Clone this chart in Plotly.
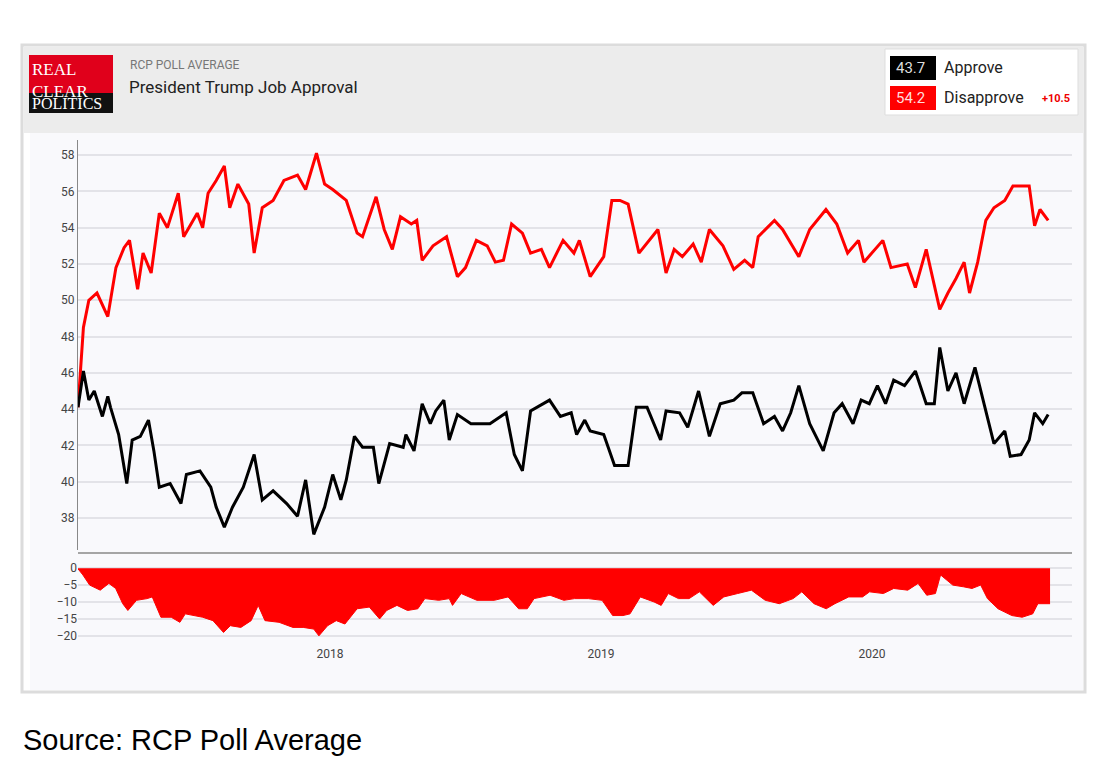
import plotly.graph_objects as go
from plotly.subplots import make_subplots

W, H = 1108, 773

# approve (black) - decimal year / value
approve_t = [2017.07, 2017.09, 2017.11, 2017.13, 2017.16, 2017.18, 2017.19, 2017.22, 2017.25, 2017.27,
             2017.30, 2017.33, 2017.35, 2017.37, 2017.41, 2017.45, 2017.47, 2017.52, 2017.56, 2017.58,
             2017.61, 2017.64, 2017.68, 2017.72, 2017.75, 2017.79, 2017.84, 2017.88, 2017.91, 2017.94,
             2017.98, 2018.01, 2018.04, 2018.06, 2018.09, 2018.12, 2018.16, 2018.18, 2018.22, 2018.27,
             2018.28, 2018.31, 2018.34, 2018.37, 2018.39, 2018.42, 2018.44, 2018.47, 2018.52, 2018.59,
             2018.65, 2018.68, 2018.71, 2018.74, 2018.81, 2018.85, 2018.89, 2018.91, 2018.94, 2018.96,
             2019.01, 2019.05, 2019.10, 2019.13, 2019.17, 2019.22, 2019.24, 2019.29, 2019.32, 2019.36,
             2019.40, 2019.44, 2019.49, 2019.52, 2019.56, 2019.60, 2019.64, 2019.67, 2019.70, 2019.73,
             2019.77, 2019.82, 2019.86, 2019.89, 2019.93, 2019.96, 2019.99, 2020.02, 2020.05, 2020.08,
             2020.12, 2020.16, 2020.20, 2020.23, 2020.25, 2020.28, 2020.31, 2020.34, 2020.38, 2020.42,
             2020.45, 2020.49, 2020.51, 2020.55, 2020.58, 2020.60, 2020.63, 2020.65]
approve_v = [44.1, 46.1, 44.5, 45.0, 43.6, 44.7, 44.1, 42.6, 39.9, 42.3,
             42.5, 43.4, 41.7, 39.7, 39.9, 38.8, 40.4, 40.6, 39.7, 38.6,
             37.5, 38.6, 39.7, 41.5, 39.0, 39.5, 38.8, 38.1, 40.1, 37.1,
             38.6, 40.4, 39.0, 40.1, 42.5, 41.9, 41.9, 39.9, 42.1, 41.9,
             42.6, 41.7, 44.3, 43.2, 43.9, 44.5, 42.3, 43.7, 43.2, 43.2,
             43.8, 41.5, 40.6, 43.9, 44.5, 43.6, 43.8, 42.6, 43.4, 42.8,
             42.6, 40.9, 40.9, 44.1, 44.1, 42.3, 43.9, 43.8, 43.0, 45.0,
             42.5, 44.3, 44.5, 44.9, 44.9, 43.2, 43.6, 42.8, 43.8, 45.3,
             43.2, 41.7, 43.8, 44.3, 43.2, 44.5, 44.3, 45.3, 44.3, 45.6,
             45.3, 46.1, 44.3, 44.3, 47.4, 45.0, 46.0, 44.3, 46.3, 43.8,
             42.1, 42.8, 41.4, 41.5, 42.3, 43.8, 43.2, 43.7]

# disapprove (red)
disapprove_t = [2017.07, 2017.09, 2017.11, 2017.14, 2017.18, 2017.21, 2017.24, 2017.26, 2017.29, 2017.31,
                2017.34, 2017.37, 2017.40, 2017.44, 2017.46, 2017.51, 2017.53, 2017.55, 2017.58, 2017.61,
                2017.63, 2017.66, 2017.70, 2017.72, 2017.75, 2017.79, 2017.83, 2017.88, 2017.91, 2017.95,
                2017.98, 2018.01, 2018.06, 2018.10, 2018.12, 2018.17, 2018.20, 2018.23, 2018.26, 2018.30,
                2018.32, 2018.34, 2018.38, 2018.43, 2018.47, 2018.50, 2018.54, 2018.58, 2018.61, 2018.64,
                2018.67, 2018.71, 2018.74, 2018.78, 2018.81, 2018.86, 2018.90, 2018.92, 2018.96,
                2019.01, 2019.04, 2019.07, 2019.10, 2019.14, 2019.21, 2019.24, 2019.27, 2019.30, 2019.34,
                2019.37, 2019.40, 2019.45, 2019.49, 2019.53, 2019.56, 2019.58, 2019.64, 2019.67, 2019.73,
                2019.77, 2019.83, 2019.87, 2019.91, 2019.95, 2019.97, 2020.04, 2020.07, 2020.13, 2020.16,
                2020.20, 2020.25, 2020.28, 2020.31, 2020.34, 2020.36, 2020.39, 2020.42, 2020.45, 2020.49,
                2020.52, 2020.55, 2020.58, 2020.60, 2020.62, 2020.65]
disapprove_v = [44.1, 48.5, 50.0, 50.4, 49.1, 51.8, 52.9, 53.3, 50.6, 52.6,
                51.5, 54.8, 54.0, 55.9, 53.5, 54.8, 54.0, 55.9, 56.6, 57.4,
                55.1, 56.4, 55.3, 52.6, 55.1, 55.5, 56.6, 56.9, 56.1, 58.1,
                56.4, 56.1, 55.5, 53.7, 53.5, 55.7, 53.9, 52.8, 54.6, 54.2,
                54.4, 52.2, 53.0, 53.5, 51.3, 51.8, 53.3, 53.0, 52.1, 52.2,
                54.2, 53.7, 52.6, 52.8, 51.8, 53.3, 52.6, 53.3, 51.3,
                52.4, 55.5, 55.5, 55.3, 52.6, 53.9, 51.5, 52.8, 52.4, 53.1,
                52.1, 53.9, 53.0, 51.7, 52.2, 51.8, 53.5, 54.4, 53.9, 52.4,
                53.9, 55.0, 54.2, 52.6, 53.3, 52.1, 53.3, 51.8, 52.0, 50.7,
                52.8, 49.5, 50.4, 51.2, 52.1, 50.4, 52.1, 54.4, 55.1, 55.5,
                56.3, 56.3, 56.3, 54.1, 55.0, 54.4]

# spread panel (approve - disapprove)
spread_t = [2017.068, 2017.088, 2017.113, 2017.152, 2017.184, 2017.209, 2017.235, 2017.254, 2017.286, 2017.325,
            2017.344, 2017.376, 2017.414, 2017.446, 2017.466, 2017.530, 2017.568, 2017.607, 2017.632, 2017.671,
            2017.709, 2017.735, 2017.760, 2017.812, 2017.863, 2017.901, 2017.940, 2017.959, 2017.991, 2018.023,
            2018.055, 2018.100, 2018.145, 2018.183, 2018.209, 2018.247, 2018.286, 2018.324, 2018.350, 2018.401,
            2018.440, 2018.452, 2018.484, 2018.542, 2018.606, 2018.657, 2018.696, 2018.728, 2018.753, 2018.812,
            2018.863, 2018.902, 2018.953, 2019.004, 2019.043, 2019.081, 2019.107, 2019.145, 2019.196, 2019.222,
            2019.248, 2019.286, 2019.325, 2019.363, 2019.414, 2019.453, 2019.504, 2019.555, 2019.606, 2019.658,
            2019.709, 2019.741, 2019.786, 2019.831, 2019.863, 2019.914, 2019.965, 2019.991, 2020.042, 2020.080,
            2020.132, 2020.170, 2020.202, 2020.234, 2020.253, 2020.298, 2020.337, 2020.369, 2020.401, 2020.426,
            2020.465, 2020.516, 2020.554, 2020.593, 2020.612, 2020.657]
spread_v = [0, -2, -5, -6.5, -4.5, -6, -10.5, -12.5, -9.5, -9,
            -8.5, -14.5, -14.5, -16, -13.5, -14.5, -15.5, -19, -17, -17.5,
            -15.5, -11, -15.5, -16, -17.5, -17.5, -18, -20, -17, -15.5,
            -16.5, -12, -11.5, -15, -12.5, -11, -12.5, -12, -9, -9.5,
            -9, -11, -7.5, -9.5, -9.5, -8.5, -12, -12, -9, -8,
            -9.5, -9, -9, -9.5, -14, -14, -13.5, -8.5, -10, -11,
            -7.5, -9, -9, -7, -11, -8.5, -7.5, -6.5, -9.5, -10.5,
            -9, -7, -10.5, -12, -10.5, -8.5, -8.5, -7, -7.5, -6,
            -6.5, -4.5, -8, -7.5, -2, -5, -5.5, -6, -5, -9,
            -12, -14, -14.5, -13.5, -10.5, -10.5]

year_ticks = [2018, 2019, 2020]

# the page is drawn with an 8px offset, so pull everything back
OFF = 8


def px(x):
    return (x - OFF) / W


def py(y):
    return 1 - (y - OFF) / H


fig = make_subplots(rows=2, cols=1, shared_xaxes=True, vertical_spacing=0.01)

fig.add_trace(go.Scatter(x=disapprove_t, y=disapprove_v, mode="lines",
                         line=dict(color="#ff0000", width=3), name="Disapprove"), row=1, col=1)
fig.add_trace(go.Scatter(x=approve_t, y=approve_v, mode="lines",
                         line=dict(color="#000000", width=3), name="Approve"), row=1, col=1)
fig.add_trace(go.Scatter(x=spread_t, y=spread_v, mode="lines", fill="tozeroy",
                         fillcolor="#ff0000", line=dict(color="#ff0000", width=1),
                         name="Spread"), row=2, col=1)

tickfont = dict(family="Roboto, Arial", size=12, color="#444")
fig.update_xaxes(range=[2017.07, 2020.738], showgrid=False, zeroline=False)
fig.update_xaxes(showticklabels=False, row=1, col=1, domain=[px(78), px(1072)])
fig.update_xaxes(tickvals=year_ticks, ticktext=[str(t) for t in year_ticks], tickfont=tickfont,
                 ticks="", row=2, col=1, domain=[px(78), px(1072)])
fig.update_yaxes(domain=[py(550), py(140)], range=[36.24, 58.83], tickvals=list(range(38, 59, 2)),
                 gridcolor="#e3e3e8", gridwidth=2, tickfont=tickfont, zeroline=False,
                 showline=True, linecolor="#888", mirror=False, row=1, col=1)
fig.update_yaxes(domain=[py(645), py(558)], range=[-22.7, 3.0], tickvals=[0, -5, -10, -15, -20],
                 gridcolor="#e3e3e8", gridwidth=2, tickfont=tickfont, zeroline=False, row=2, col=1)

shapes = [
    # panel box
    dict(type="rect", xref="paper", yref="paper", x0=px(22), x1=px(1085), y0=py(692), y1=py(45),
         line=dict(color="#dcdcdc", width=3), fillcolor="rgba(0,0,0,0)", layer="below"),
    dict(type="rect", xref="paper", yref="paper", x0=px(24), x1=px(1083), y0=py(133), y1=py(47),
         line=dict(width=0), fillcolor="#ececec", layer="below"),
    dict(type="rect", xref="paper", yref="paper", x0=px(30), x1=px(1083), y0=py(690), y1=py(133),
         line=dict(width=0), fillcolor="#f9f9fc", layer="below"),
    # separator between panels
    dict(type="line", xref="paper", yref="paper", x0=px(78), x1=px(1072), y0=py(553), y1=py(553),
         line=dict(color="#888", width=1.5)),
    # logo
    dict(type="rect", xref="paper", yref="paper", x0=px(29), x1=px(113), y0=py(93), y1=py(55),
         line=dict(width=0), fillcolor="#e0001b"),
    dict(type="rect", xref="paper", yref="paper", x0=px(29), x1=px(113), y0=py(113), y1=py(93),
         line=dict(width=0), fillcolor="#111"),
    # legend box
    dict(type="rect", xref="paper", yref="paper", x0=px(885), x1=px(1078), y0=py(115), y1=py(49),
         line=dict(color="#ddd", width=1), fillcolor="#ffffff"),
    dict(type="rect", xref="paper", yref="paper", x0=px(890), x1=px(936), y0=py(80), y1=py(56),
         line=dict(width=0), fillcolor="#000000"),
    dict(type="rect", xref="paper", yref="paper", x0=px(890), x1=px(936), y0=py(110), y1=py(86),
         line=dict(width=0), fillcolor="#ff0000"),
]

anns = [
    dict(x=px(30), y=py(58), text="REAL<br>CLEAR", font=dict(family="Liberation Serif", size=17, color="white"),
         align="left"),
    dict(x=px(30), y=py(93), text="POLITICS", font=dict(family="Liberation Serif", size=16, color="white")),
    dict(x=px(128), y=py(56), text="RCP POLL AVERAGE", font=dict(family="Roboto", size=12, color="#777")),
    dict(x=px(127), y=py(75), text="President Trump Job Approval", font=dict(family="Roboto", size=17, color="#222")),
    dict(x=px(894), y=py(57), text="43.7", font=dict(family="Roboto", size=15, color="#ddd")),
    dict(x=px(894), y=py(87), text="54.2", font=dict(family="Roboto", size=15, color="#fdd")),
    dict(x=px(942), y=py(56), text="Approve", font=dict(family="Roboto", size=16, color="#222")),
    dict(x=px(942), y=py(86), text="Disapprove", font=dict(family="Roboto", size=16, color="#222")),
    dict(x=px(1040), y=py(90), text="<b>+10.5</b>", font=dict(family="Roboto", size=11, color="#e00")),
    dict(x=px(21), y=py(722), text="Source: RCP Poll Average", font=dict(family="Arial", size=29, color="#000")),
]
for a in anns:
    a.update(xref="paper", yref="paper", xanchor="left", yanchor="top", showarrow=False)

fig.update_layout(width=W, height=H, margin=dict(l=0, r=0, t=0, b=0), showlegend=False,
                  paper_bgcolor="white", plot_bgcolor="#f9f9fc", shapes=shapes, annotations=anns)

fig.write_html("out.html")
